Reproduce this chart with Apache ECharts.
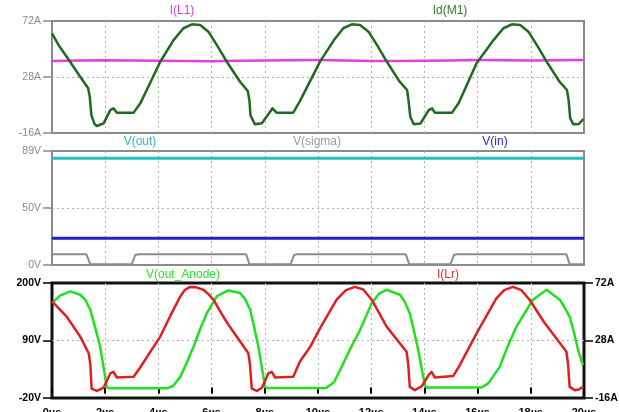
<!DOCTYPE html>
<html><head><meta charset="utf-8">
<script src="https://cdn.jsdelivr.net/npm/echarts@6/dist/echarts.min.js"></script>
<style>html,body{margin:0;padding:0;background:#fff;overflow:hidden}#c{width:619px;height:412px}</style>
</head><body><div id="c"></div>
<script>
// ---- data (time in µs) ----
const timeUnit = 'µs';
const pane1Labels = ['-16A', '28A', '72A'];
const pane2Labels = ['0V', '50V', '89V'];
const pane3LeftLabels = ['-20V', '90V', '200V'];
const pane3RightLabels = ['-16A', '28A', '72A'];

const iL1 = [[0,40.6],[1,41.0],[2,41.2],[3,40.9],[4,40.8],[5,40.5],[6,40.3],[7,40.7],[8,41.0],[9,41.2],[10,41.3],[11,41.0],[12,40.6],[13,40.6],[14,40.8],[15,41.0],[16,41.3],[17,41.2],[18,41.0],[19,41.2],[20,41.4]];

const idM1 = [[0,62.3],[0.25,53],[0.56,43.7],[1.06,28.2],[1.36,19.1],[1.42,12.5],[1.48,-2],[1.6,-9],[1.69,-10.5],[1.94,-8.4],[2.19,2],[2.31,3.4],[2.44,0],[3.07,0],[3.32,7.3],[4.07,40],[4.57,57],[4.94,66.3],[5.26,69.4],[5.57,68.9],[5.88,63.6],[6.2,53.1],[6.57,40],[7.07,24.3],[7.36,17],[7.42,10],[7.46,-2],[7.63,-9.2],[7.89,-8.4],[8.2,0.7],[8.29,3.4],[8.44,0],[9.07,0],[9.32,9],[10.08,40.3],[10.6,57],[10.95,66.3],[11.27,69.4],[11.58,68.9],[11.9,63.6],[12.22,53.1],[12.58,40.3],[13.07,24.3],[13.35,17.8],[13.4,10],[13.47,-3.2],[13.6,-9.2],[13.85,-8.6],[14.16,2],[14.29,3.4],[14.39,0],[15.04,0],[15.3,8],[15.96,38.8],[16.6,57],[16.97,66.3],[17.29,69.4],[17.6,68.9],[17.91,63.6],[18.23,53.1],[18.59,40.3],[19.08,24.3],[19.36,17.8],[19.42,10],[19.48,-4.3],[19.6,-9.2],[19.8,-9],[19.98,-5]];

const vOut = [[0,83.3],[20,83.3]];
const vIn = [[0,20.8],[20,20.8]];
const vSigma = [[0,8.4],[1.29,8.4],[1.44,0.5],[3.0,0.5],[3.13,7.8],[3.25,8.4],[7.30,8.4],[7.42,0.5],[8.97,0.5],[9.10,7.8],[9.22,8.4],[13.30,8.4],[13.43,0.5],[14.98,0.5],[15.11,7.8],[15.23,8.4],[19.34,8.4],[19.46,0.5],[20,0.5]];

const vOutAnode = [[0,161.5],[0.3,176],[0.69,184],[1.06,177.5],[1.25,168],[1.44,148.7],[1.65,110],[1.81,78],[1.95,35],[2.06,1.2],[2.15,-1.5],[4.32,-1.5],[4.55,3],[4.82,20.4],[5.07,48],[5.32,78],[5.57,112],[5.82,142.3],[6.2,175],[6.63,185.8],[7.07,180.8],[7.25,170],[7.45,148.7],[7.6,115],[7.76,78],[7.9,35],[8.01,1.2],[8.1,-1],[10.3,-1],[10.6,10],[10.95,46],[11.25,78],[11.58,110],[12.02,161.5],[12.3,180],[12.58,187],[13.08,177.5],[13.25,165],[13.45,142.3],[13.6,110],[13.77,71.8],[13.9,35],[14.02,4.4],[14.1,0],[16.15,0],[16.4,8],[16.83,39.6],[17.1,75],[17.46,116.6],[18.08,167.9],[18.59,187],[19.09,167.9],[19.25,155],[19.46,135.8],[19.6,110],[19.78,71.8],[19.96,43]];

const iLr = [[0,57.9],[0.56,46],[1.06,31],[1.38,18.2],[1.44,10],[1.49,-8.8],[1.69,-10.6],[1.94,-8],[2.19,2.8],[2.31,4.0],[2.44,-0.3],[3.07,0.2],[3.3,7],[4.07,31],[4.45,47],[4.82,61.7],[5.0,66.8],[5.19,69],[5.4,68.8],[5.69,66.8],[5.88,63.5],[6.07,59.2],[6.3,51],[6.6,41],[7.38,18.2],[7.44,10],[7.51,-8.8],[7.70,-10.6],[7.9,-8],[8.13,2.8],[8.26,4],[8.39,-0.3],[9.07,0.2],[9.32,12],[9.7,23],[10.08,37.4],[10.7,59.2],[11.05,66.5],[11.39,69],[11.7,67],[12.02,59.2],[12.58,38.6],[13.33,19.4],[13.39,10],[13.45,-7.5],[13.64,-10],[13.9,-7],[14.14,1],[14.27,4],[14.39,-0.3],[15.08,0.8],[15.3,8],[15.96,33.5],[16.7,60],[17.0,66.5],[17.33,69],[17.65,66.5],[17.96,59],[18.5,42],[19.34,19.4],[19.4,10],[19.46,-7.5],[19.65,-10],[19.8,-9.5],[19.96,-7.5]];

const seriesNames = ['I(L1)', 'Id(M1)', 'V(out)', 'V(sigma)', 'V(in)', 'V(out_Anode)', 'I(Lr)'];
const seriesColors = ['#e040e0', '#1f6a1f', '#20c0c0', '#8c8c8c', '#2020c8', '#20e020', '#e02020'];

// ---- chart ----
const chart = echarts.init(document.getElementById('c'), null, {renderer: 'canvas'});
const FONT = 'Liberation Sans, Arial, sans-serif';
const gridLine = {show: true, showMinLine: false, showMaxLine: false, lineStyle: {color: '#b0b0b0', type: [2, 3], width: 1}};

function xAxis(gi, showLabels) {
  return {
    type: 'value', gridIndex: gi, min: 0, max: 20, interval: 2,
    axisLine: {show: false},
    axisTick: {show: showLabels, length: 6, lineStyle: {color: '#000', width: 2}},
    axisLabel: {show: showLabels, margin: 9, color: '#000', fontSize: 11, fontWeight: 'bold', fontFamily: FONT,
      formatter: v => v + timeUnit},
    splitLine: gridLine
  };
}
function yAxis(gi, min, max, labels, color, pos, split) {
  const iv = (max - min) / (labels.length - 1);
  return {
    type: 'value', gridIndex: gi, min: min, max: max, interval: iv, position: pos || 'left',
    axisLine: {show: false},
    axisTick: {show: true, length: 9, lineStyle: {color: color, width: 1.5}},
    axisLabel: {margin: 11, color: color, fontSize: 10.5, fontFamily: FONT,
      fontWeight: color === '#000' ? 'bold' : 'normal',
      formatter: v => labels[Math.round((v - min) / iv)]},
    splitLine: split === false ? {show: false} : gridLine
  };
}
function line(name, xi, yi, data, color, width) {
  return {
    name: name, type: 'line', xAxisIndex: xi, yAxisIndex: yi, data: data,
    showSymbol: false, symbol: 'none', animation: false,
    lineStyle: {color: color, width: width || 2.5, join: 'round'}
  };
}

const titles = [
  [seriesNames[0], 182, 11, '#d840d8'],
  [seriesNames[1], 450, 11, '#2e7d2e'],
  [seriesNames[2], 140, 142, '#30b8c0'],
  [seriesNames[3], 317, 142, '#9a9a9a'],
  [seriesNames[4], 495, 142, '#2828d0'],
  [seriesNames[5], 183, 275, '#30e030'],
  [seriesNames[6], 448, 275, '#e03030']
];

const gridBase = {left: 52, width: 532, show: true, backgroundColor: 'transparent', outerBoundsMode: 'none', containLabel: false};
chart.setOption({
  backgroundColor: '#fff',
  animation: false,
  grid: [
    Object.assign({}, gridBase, {top: 21, height: 112, borderColor: '#8a8a8a', borderWidth: 2}),
    Object.assign({}, gridBase, {top: 151, height: 114, borderColor: '#8a8a8a', borderWidth: 2}),
    Object.assign({}, gridBase, {top: 283, height: 115, borderColor: '#111', borderWidth: 3})
  ],
  xAxis: [xAxis(0, false), xAxis(1, false), xAxis(2, true)],
  yAxis: [
    yAxis(0, -16, 72, pane1Labels, '#8a8a8a'),
    yAxis(1, 0, 89, pane2Labels, '#8a8a8a'),
    yAxis(2, -20, 200, pane3LeftLabels, '#000'),
    yAxis(2, -16, 72, pane3RightLabels, '#000', 'right', false)
  ],
  graphic: titles.map(t => ({
    type: 'text', x: t[1], y: t[2], silent: true,
    style: {text: t[0], fill: t[3], font: '12px ' + FONT, align: 'center', verticalAlign: 'middle'}
  })),
  series: [
    line(seriesNames[0], 0, 0, iL1, seriesColors[0], 2.5),
    line(seriesNames[1], 0, 0, idM1, seriesColors[1], 2.5),
    line(seriesNames[2], 1, 1, vOut, seriesColors[2], 3),
    line(seriesNames[3], 1, 1, vSigma, seriesColors[3], 2),
    line(seriesNames[4], 1, 1, vIn, seriesColors[4], 3),
    line(seriesNames[5], 2, 2, vOutAnode, seriesColors[5], 2.5),
    line(seriesNames[6], 2, 3, iLr, seriesColors[6], 2.5)
  ]
});
</script></body></html>
